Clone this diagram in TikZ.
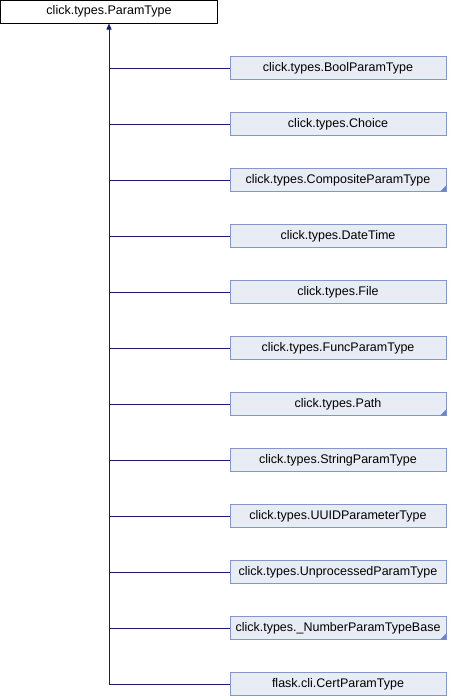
\documentclass[tikz,border=0pt]{standalone}
\usepackage{fontspec}
\setmainfont{Liberation Sans}
\usetikzlibrary{arrows.meta}
\definecolor{edgeblue}{HTML}{191970}
\definecolor{classfill}{HTML}{E8ECF5}
\definecolor{classline}{HTML}{8497CB}
\definecolor{morecorner}{HTML}{6A86C8}
\begin{document}
\begin{tikzpicture}[x=1pt,y=-1pt,
  every node/.style={font=\fontsize{12.5}{14}\selectfont, inner sep=0pt},
  rootbox/.style={draw=black, fill=white, line width=1pt, minimum width=217pt, minimum height=23pt},
  classbox/.style={draw=classline, fill=classfill, line width=1pt, minimum width=216pt, minimum height=23pt},
  inherit/.style={draw=edgeblue, line width=1pt},
  more/.style={fill=morecorner}]
\useasboundingbox (0,0) rectangle (448,696);

% base class
\node[rootbox] (base) at (109,11.5) {click.types.ParamType};

% derived classes
\node[classbox] (c1)  at (338,68)  {click.types.BoolParamType};
\node[classbox] (c2)  at (338,124) {click.types.Choice};
\node[classbox] (c3)  at (338,180) {click.types.CompositeParamType};
\node[classbox] (c4)  at (338,236) {click.types.DateTime};
\node[classbox] (c5)  at (338,292) {click.types.File};
\node[classbox] (c6)  at (338,348) {click.types.FuncParamType};
\node[classbox] (c7)  at (338,404) {click.types.Path};
\node[classbox] (c8)  at (338,460) {click.types.StringParamType};
\node[classbox] (c9)  at (338,516) {click.types.UUIDParameterType};
\node[classbox] (c10) at (338,572) {click.types.UnprocessedParamType};
\node[classbox] (c11) at (338,628) {click.types.\_NumberParamTypeBase};
\node[classbox] (c12) at (338,684) {flask.cli.CertParamType};

% marker for classes with further subclasses
\foreach \n in {c3,c7,c11}
  \path[more] ([shift={(-0.5,-0.5)}]\n.south east) -- ++(-6,0) -- ++(6,-6) -- cycle;

% inheritance tree
\coordinate (trunk) at (c12.west -| base.south);
\draw[inherit, -{Triangle[length=6pt,width=5pt]}] (trunk) -- (base.south);
\foreach \n in {c1,c2,c3,c4,c5,c6,c7,c8,c9,c10,c11,c12}
  \draw[inherit] (\n.west) -- (\n.west -| base.south);
\end{tikzpicture}
\end{document}
